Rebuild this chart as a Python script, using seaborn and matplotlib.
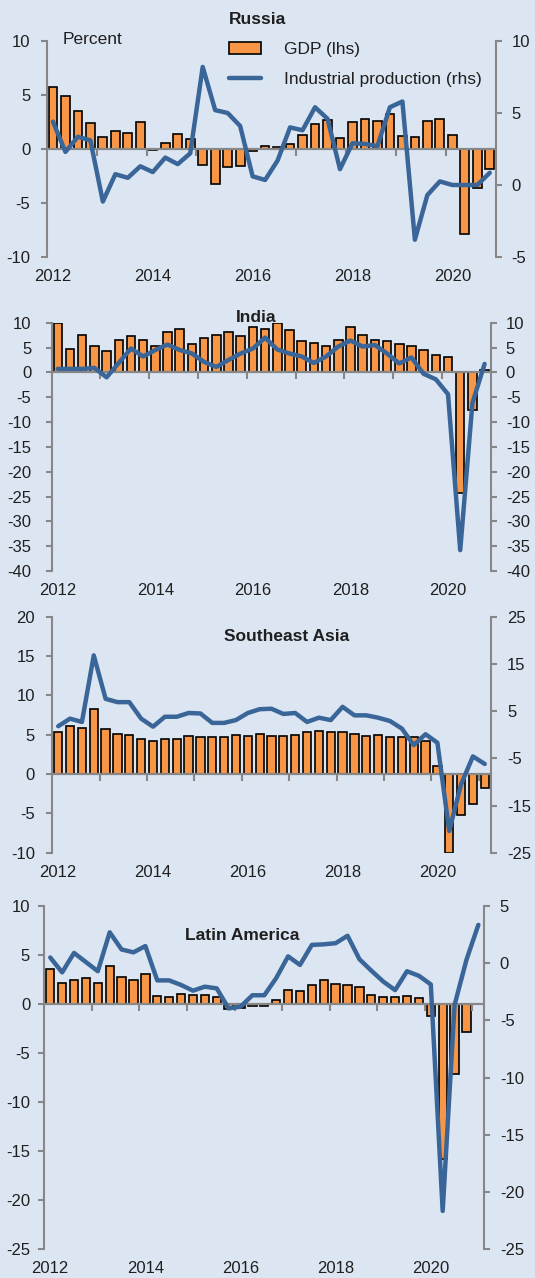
import numpy as np
import pandas as pd
import matplotlib
matplotlib.use('Agg')
import matplotlib.pyplot as plt
from matplotlib.lines import Line2D
from matplotlib.patches import Patch
import seaborn as sns

# quarterly categories 2012Q1 .. 2021Q1
quarters = [f"{y}Q{q}" for y in range(2012, 2022) for q in range(1, 5)][:37]
year_labels = ['2012', '2014', '2016', '2018', '2020']

# Russia, 2012Q1-2020Q4
russia_gdp = [5.7, 4.9, 3.5, 2.4, 1.1, 1.7, 1.5, 2.5, -0.1, 0.6, 1.4, 0.9,
              -1.5, -3.2, -1.7, -1.6, -0.2, 0.3, 0.2, 0.5, 1.3, 2.3, 2.7, 1.0,
              2.5, 2.8, 2.6, 3.2, 1.2, 1.1, 2.6, 2.8, 1.3, -7.9, -3.6, -1.85]
russia_ip = [4.4, 2.3, 3.35, 3.1, -1.15, 0.75, 0.5, 1.3, 0.9, 1.9, 1.45, 2.2,
             8.2, 5.2, 5.0, 4.1, 0.6, 0.35, 1.7, 4.0, 3.8, 5.4, 4.6, 1.1,
             2.9, 2.85, 2.7, 5.4, 5.8, -3.8, -0.7, 0.25, 0.0, 0.0, 0.0, 0.85]

# India, 2012Q1-2020Q4
india_gdp = [10.0, 4.8, 7.6, 5.3, 4.4, 6.6, 7.4, 6.6, 5.4, 8.1, 8.8, 5.8,
             7.0, 7.6, 8.1, 7.4, 9.1, 8.8, 9.9, 8.5, 6.3, 6.0, 5.3, 6.6,
             9.1, 7.6, 6.6, 6.3, 5.8, 5.3, 4.6, 3.4, 3.1, -24.2, -7.6, 0.5]
india_ip = [0.7, 0.7, 0.7, 0.9, -1.0, 1.9, 4.8, 3.2, 4.5, 5.6, 4.5, 3.8,
            2.1, 1.1, 2.5, 3.8, 4.8, 7.0, 4.6, 3.8, 3.2, 1.9, 3.2, 5.2,
            6.4, 5.2, 5.5, 3.8, 1.8, 3.0, -0.3, -1.4, -4.4, -35.8, -6.2, 1.7]

# Southeast Asia, 2012Q1-2021Q1
sea_gdp = [5.3, 6.1, 5.8, 8.3, 5.7, 5.1, 5.0, 4.4, 4.2, 4.5, 4.4, 4.8,
           4.7, 4.7, 4.7, 5.0, 4.85, 5.1, 4.85, 4.85, 5.0, 5.3, 5.5, 5.3,
           5.3, 5.1, 4.8, 5.0, 4.7, 4.7, 4.7, 4.25, 1.05, -10.0, -5.2, -3.8, -1.8]
sea_ip = [1.8, 3.4, 2.7, 16.8, 7.6, 6.9, 6.9, 3.4, 1.7, 3.8, 3.8, 4.6,
          4.5, 2.5, 2.5, 3.1, 4.6, 5.4, 5.5, 4.4, 4.6, 2.7, 3.6, 3.1,
          5.9, 4.1, 4.1, 3.6, 2.9, 1.3, -2.2, 0.1, -1.7, -20.4, -10.5, -4.6, -6.2]

# Latin America, GDP to 2020Q4, IP to 2021Q1
latam_gdp = [3.6, 2.1, 2.5, 2.7, 2.1, 3.9, 2.8, 2.5, 3.1, 0.85, 0.7, 1.05,
             0.95, 0.95, 0.7, -0.5, -0.4, -0.2, -0.2, 0.4, 1.45, 1.35, 1.9, 2.45,
             2.05, 1.9, 1.7, 0.9, 0.7, 0.7, 0.85, 0.6, -1.2, -15.8, -7.1, -2.8]
latam_ip = [0.5, -0.8, 0.9, 0.1, -0.7, 2.7, 1.2, 0.95, 1.5, -1.5, -1.5, -1.9,
            -2.4, -2.05, -2.2, -3.95, -3.8, -2.8, -2.8, -1.3, 0.6, -0.15, 1.6, 1.65,
            1.75, 2.4, 0.35, -0.65, -1.6, -2.35, -0.7, -1.1, -1.85, -21.65, -3.65, 0.3, 3.35]

sns.set_style('ticks')
plt.rcParams['font.family'] = ['Liberation Sans', 'DejaVu Sans']
plt.rcParams['axes.unicode_minus'] = False

BG = '#DCE6F2'
ORANGE = '#F79646'
BLUE = '#3A6598'
GREY = '#878787'
TXT = '#1f1f1f'

W, H = 535, 1278
fig = plt.figure(figsize=(W / 100, H / 100), dpi=100, facecolor=BG)


def panel(box, gdp, ip, n, lhs, rhs, lpad, rpad, title, txy):
    left, top, right, bottom = box
    ax = fig.add_axes([left / W, 1 - bottom / H, (right - left) / W, (bottom - top) / H])
    ax.set_facecolor(BG)
    q = quarters[:n]
    df = pd.DataFrame({'quarter': q[:len(gdp)], 'gdp': gdp})
    sns.barplot(data=df, x='quarter', y='gdp', order=q, color=ORANGE, saturation=1,
                width=0.7, edgecolor='black', linewidth=1.2, errorbar=None, ax=ax)
    ax.axhline(0, color=GREY, lw=1.6, zorder=3)
    bounds = np.arange(3.5, n - 0.5, 4)
    ax.plot(bounds, np.zeros_like(bounds), ls='none', marker=3, ms=5, mew=1.5,
            color=GREY, zorder=3, clip_on=False)
    ax.set_xlim(-0.5, n - 0.5)
    ax.set_ylim(lhs[0], lhs[1])
    ax.set_yticks(np.arange(lhs[0], lhs[1] + 1, lhs[2]))
    ax.set_xticks([0, 8, 16, 24, 32], year_labels)
    ax.tick_params(axis='x', length=0, pad=8.5, labelsize=12, labelcolor=TXT)
    ax.tick_params(axis='y', direction='out', length=4, width=1.5, color=GREY,
                   pad=lpad, labelsize=12, labelcolor=TXT)
    for s in ['top', 'right', 'bottom']:
        ax.spines[s].set_visible(False)
    ax.spines['left'].set_color(GREY)
    ax.spines['left'].set_linewidth(1.5)
    ax.set_xlabel('')
    ax.set_ylabel('')

    ax2 = ax.twinx()
    sns.lineplot(x=np.arange(n), y=ip, color=BLUE, lw=3.2, ax=ax2)
    ax2.set_ylim(rhs[0], rhs[1])
    ax2.set_yticks(np.arange(rhs[0], rhs[1] + 1, rhs[2]))
    ax2.set_xlim(-0.5, n - 0.5)
    ax2.tick_params(axis='y', direction='out', length=4, width=1.5, color=GREY,
                    pad=rpad, labelsize=12, labelcolor=TXT)
    for s in ['top', 'left', 'bottom']:
        ax2.spines[s].set_visible(False)
    ax2.spines['right'].set_color(GREY)
    ax2.spines['right'].set_linewidth(1.5)
    ax2.set_ylabel('')

    fig.text(txy[0] / W, 1 - txy[1] / H, title, ha='center', va='center',
             fontsize=12.5, fontweight='bold', color=TXT)
    return ax


panel((46.7, 41, 496, 257), russia_gdp, russia_ip, 36, (-10, 10, 5), (-5, 10, 5),
      7.7, 7.2, 'Russia', (258, 20))
panel((51.7, 322.7, 490.7, 571), india_gdp, india_ip, 36, (-40, 10, 5), (-40, 10, 5),
      10.6, 6.9, 'India', (256, 317))
panel((52.3, 616.7, 490.7, 852.7), sea_gdp, sea_ip, 37, (-10, 20, 5), (-25, 25, 10),
      8.4, 7.9, 'Southeast Asia', (287, 636))
panel((44.3, 906, 484.3, 1249.3), latam_gdp, latam_ip, 37, (-25, 10, 5), (-25, 5, 5),
      6.2, 7.2, 'Latin America', (242, 936))

fig.text(63 / W, 1 - 40 / H, 'Percent', ha='left', va='center', fontsize=12.5, color=TXT)

handles = [Patch(facecolor=ORANGE, edgecolor='black', lw=1.2),
           Line2D([], [], color=BLUE, lw=3.2)]
fig.legend(handles, ['GDP (lhs)', 'Industrial production (rhs)'], loc='upper left',
           bbox_to_anchor=(229 / W, 1 - 42 / H), frameon=False, fontsize=12.5,
           handlelength=1.85, handletextpad=1.3, labelspacing=0.85,
           borderpad=0, borderaxespad=0, labelcolor=TXT)

fig.savefig('out.png', dpi=100, facecolor=BG)
